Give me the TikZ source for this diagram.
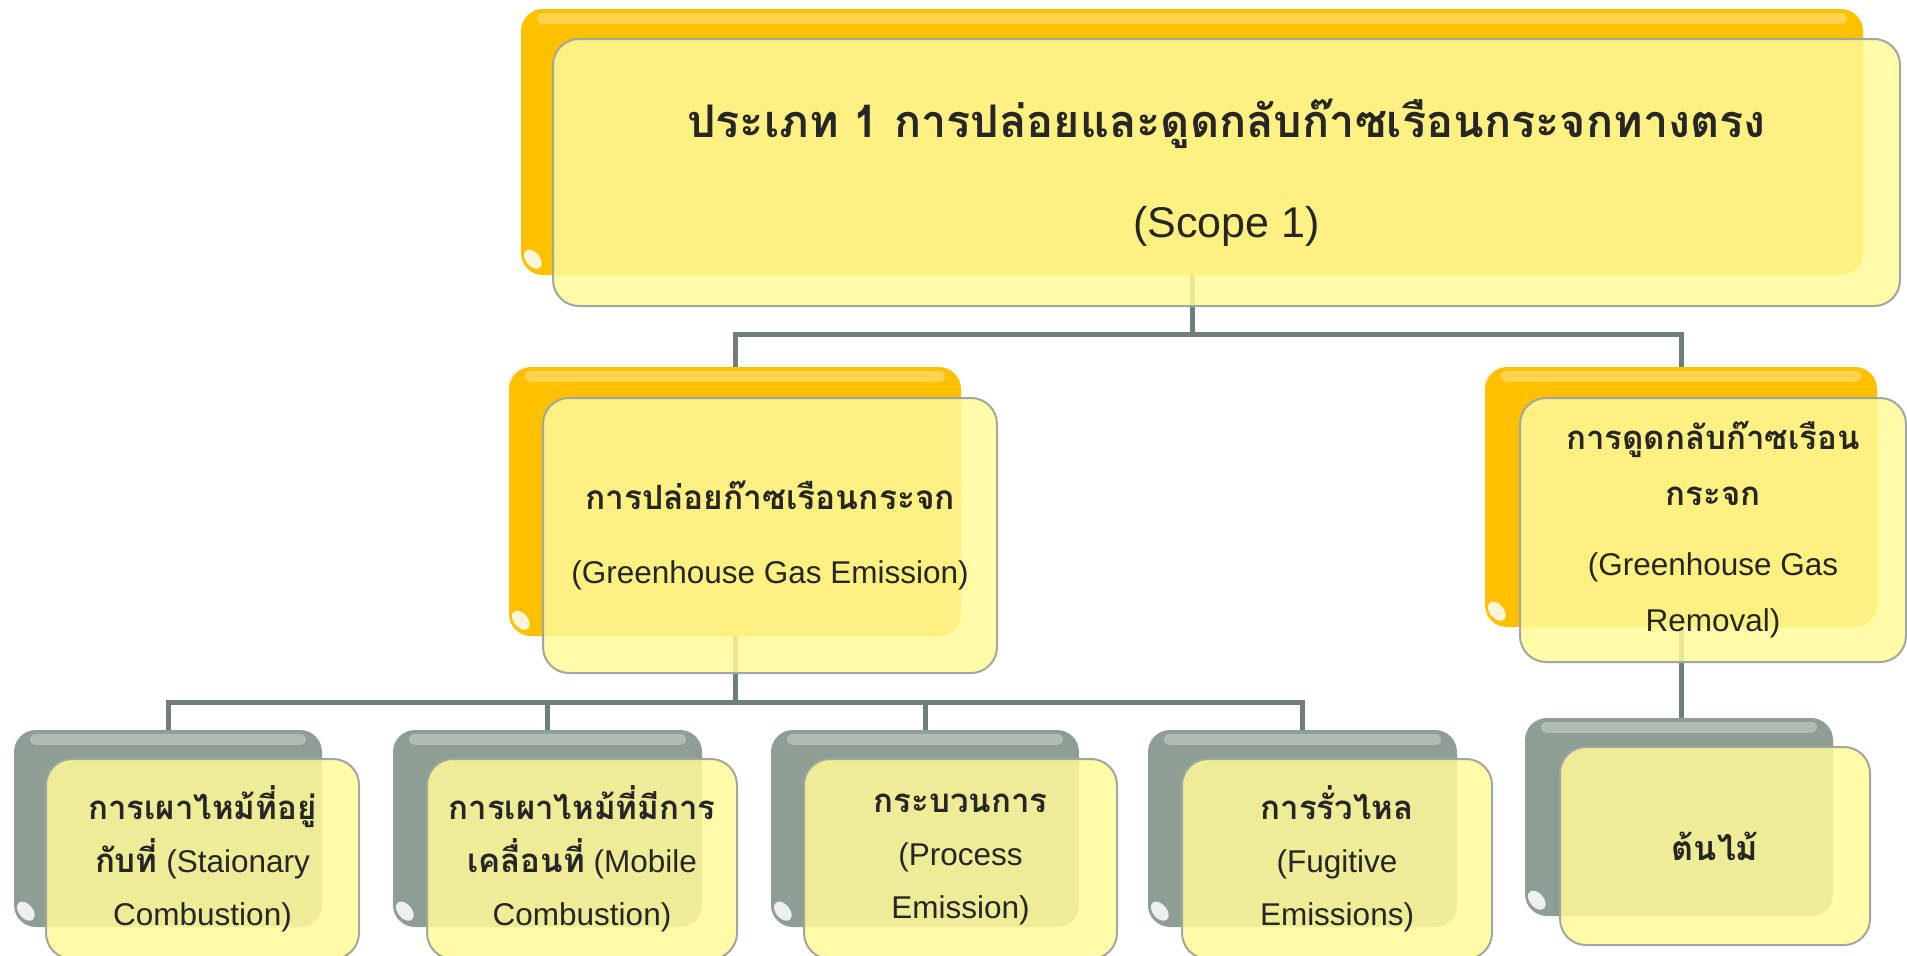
\documentclass[tikz,border=0pt]{standalone}
\usepackage{fontspec}
\setmainfont{Liberation Sans}
\newfontfamily\thaifont[Script=Thai]{Loma}
\usetikzlibrary{calc}
\definecolor{gold}{RGB}{255,192,0}
\definecolor{slate}{RGB}{142,158,148}
\definecolor{paleY}{RGB}{255,250,152}
\definecolor{edgeG}{RGB}{160,166,160}
\definecolor{wirec}{RGB}{110,126,120}
\definecolor{ink}{RGB}{38,38,38}
\newcommand{\thb}[2]{{\fontsize{#1}{0}\thaifont\bfseries #2}}
\tikzset{
  backO/.style={rounded corners=22pt, fill=gold, draw=none, inner sep=0pt},
  backG/.style={rounded corners=22pt, fill=slate, draw=none, inner sep=0pt},
  front/.style={rounded corners=26pt, fill=paleY, fill opacity=0.85, draw=edgeG,
    line width=2pt, text opacity=1, inner sep=0pt, text=ink, align=center},
  wire/.style={draw=wirec, line width=5pt},
  hilite/.style={fill=white, opacity=0.3, rounded corners=6pt},
  glossy/.style={fill=white, opacity=0.85},
}
\newcommand{\shine}[1]{%
  \fill[hilite] ($(#1.north west)+(16,4)$) rectangle ($(#1.north east)+(-16,15)$);
  \fill[glossy] ($(#1.south west)+(12,-16)$) ellipse [x radius=7pt, y radius=11pt, rotate=40];
}
\begin{document}
\begin{tikzpicture}[x=1pt,y=-1pt]
\useasboundingbox (0,0) rectangle (1907,956);
\clip (0,0) rectangle (1907,956);
% back boxes
\node[backO, minimum width=1342pt, minimum height=266pt] (tb) at (1192,142) {};
\node[backO, minimum width=452pt, minimum height=269pt] (eb) at (735,501.5) {};
\node[backO, minimum width=392pt, minimum height=260pt] (rb) at (1681,497) {};
\node[backG, minimum width=308pt, minimum height=197pt] (b1) at (168,828.5) {};
\node[backG, minimum width=309pt, minimum height=197pt] (b2) at (547.5,828.5) {};
\node[backG, minimum width=308pt, minimum height=197pt] (b3) at (925,828.5) {};
\node[backG, minimum width=309pt, minimum height=197pt] (b4) at (1302.5,828.5) {};
\node[backG, minimum width=308pt, minimum height=198pt] (b5) at (1679,817) {};
\shine{tb}\shine{eb}\shine{rb}\shine{b1}\shine{b2}\shine{b3}\shine{b4}\shine{b5}
% connectors
\coordinate (bus1) at (1192,334);
\coordinate (bus2) at (735,702);
\draw[wire] (tb.south) -- (bus1);
\draw[wire] (eb.north) |- (bus1);
\draw[wire] (rb.north) |- (bus1);
\draw[wire] (eb.south) -- (bus2);
\draw[wire] (b1.north) |- (bus2);
\draw[wire] (b2.north) |- (bus2);
\draw[wire] (b3.north) |- (bus2);
\draw[wire] (b4.north) |- (bus2);
\draw[wire] (rb.south) -- (rb.south |- b5.north);
% front boxes
\node[front, minimum width=1347pt, minimum height=267pt,
  font=\fontsize{43}{100}\selectfont] (tf) at (1226.5,172.5)
  {\thb{45}{ประเภท 1 การปล่อยและดูดกลับก๊าซเรือนกระจกทางตรง}\\(Scope 1)};
\node[front, minimum width=454pt, minimum height=275pt,
  font=\fontsize{31.5}{74}\selectfont] (ef) at (770,535.5)
  {\thb{33.5}{การปล่อยก๊าซเรือนกระจก}\\(Greenhouse Gas Emission)};
\node[front, minimum width=386pt, minimum height=264pt,
  font=\fontsize{31.5}{56}\selectfont] (rf) at (1713,530)
  {\thb{33}{การดูดกลับก๊าซเรือน}\\\thb{33}{กระจก}\\[14pt](Greenhouse Gas\\Removal)};
\node[front, minimum width=313pt, minimum height=200pt,
  font=\fontsize{31.5}{53}\selectfont] (f1) at (202.5,859)
  {\thb{33}{การเผาไหม้ที่อยู่}\\\thb{33}{กับที่} (Staionary\\Combustion)};
\node[front, minimum width=310pt, minimum height=200pt,
  font=\fontsize{31.5}{53}\selectfont] (f2) at (582,859)
  {\thb{33}{การเผาไหม้ที่มีการ}\\\thb{33}{เคลื่อนที่} (Mobile\\Combustion)};
\node[front, minimum width=313pt, minimum height=200pt,
  font=\fontsize{31.5}{53}\selectfont] (f3) at (960.5,859)
  {\thb{33}{กระบวนการ}\\(Process\\Emission)};
\node[front, minimum width=310pt, minimum height=200pt,
  font=\fontsize{31.5}{53}\selectfont] (f4) at (1337,859)
  {\thb{33}{การรั่วไหล}\\(Fugitive\\Emissions)};
\node[front, minimum width=310pt, minimum height=198pt,
  font=\fontsize{31.5}{53}\selectfont] (f5) at (1715,846)
  {\thb{34}{ต้นไม้}};
\end{tikzpicture}
\end{document}
